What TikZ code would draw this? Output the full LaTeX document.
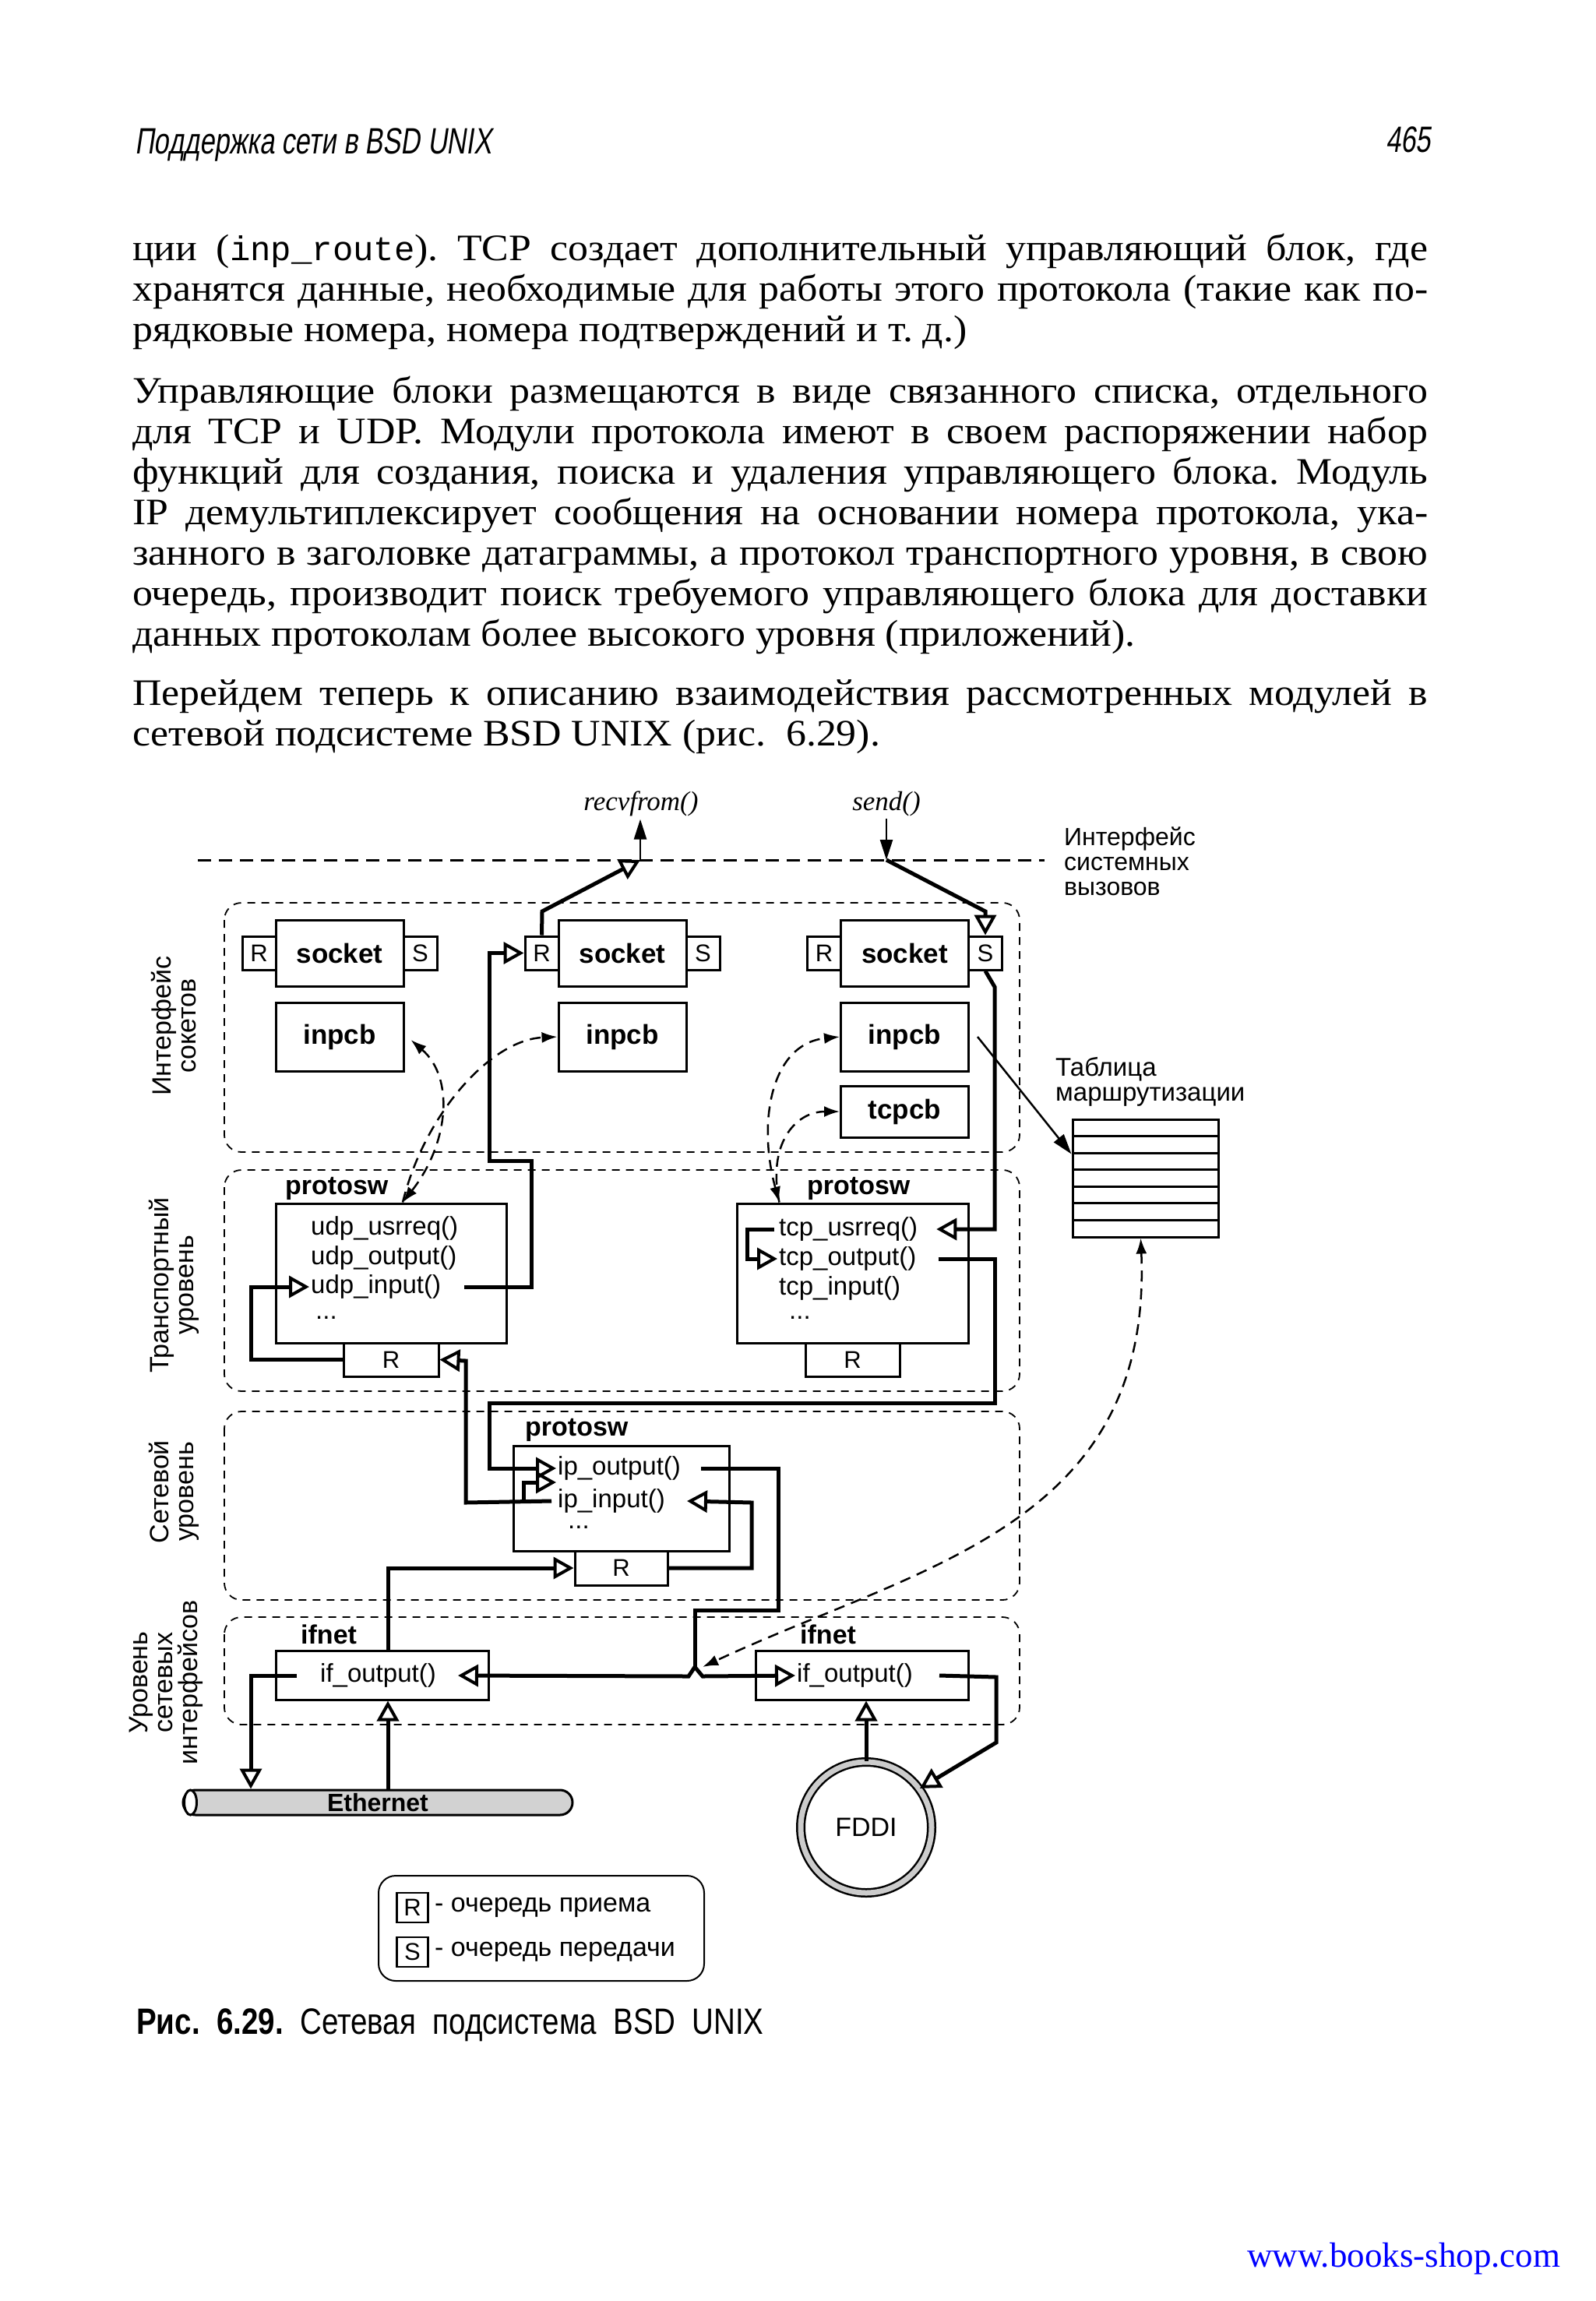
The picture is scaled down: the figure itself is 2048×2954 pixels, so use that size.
\documentclass[tikz,border=0pt]{standalone}
\usepackage{fontspec}
\setmainfont{Liberation Serif}
\newfontfamily\bodyfont[FakeStretch=1.08]{Liberation Serif}
\newfontfamily\dsans{Liberation Sans}
\newfontfamily\monof{Liberation Mono}
\newfontfamily\hdrfont[FakeStretch=0.73,FakeSlant=0.15]{Liberation Sans}
\newfontfamily\capfont[FakeStretch=0.82]{Liberation Sans}
\usetikzlibrary{arrows.meta}
\newcommand\bodysz{\bodyfont\frenchspacing\fontsize{48}{52}\selectfont}
\tikzset{
  box/.style={draw, line width=3pt, fill=white, inner sep=0pt},
  bl/.style={font=\dsans\bfseries\fontsize{35}{40}\selectfont},
  fn/.style={font=\dsans\fontsize{33}{38}\selectfont, inner sep=0pt, anchor=west},
  lbl/.style={font=\dsans\bfseries\fontsize{34}{38}\selectfont, inner sep=0pt, anchor=base west},
  qd/.style={box, font=\dsans\fontsize{31}{34}\selectfont},
  region/.style={draw, line width=1.8pt, dash pattern=on 10pt off 8pt, rounded corners=22pt},
  flow/.style={line width=5pt, -{Triangle[open, length=26pt, width=28pt, line width=4pt]}},
  flowline/.style={line width=5pt},
  thinarr/.style={line width=2.5pt, -{Triangle[length=26pt, width=16pt]}},
  darr/.style={line width=2.5pt, dash pattern=on 14pt off 9pt},
  bodyline/.style={anchor=base west, inner sep=0pt, font=\bodysz},
  side/.style={rotate=90, align=center, inner sep=0pt, font=\dsans\fontsize{34}{32}\selectfont},
}
\newcommand\jl[1]{\makebox[1663pt][s]{#1}}
\begin{document}
\begin{tikzpicture}[x=1pt,y=-1pt]
\fill[white] (0,0) rectangle (2048,2954);
\useasboundingbox (0,0) rectangle (2048,2954);

% ---------- header ----------
\node[anchor=base west, inner sep=0pt, font=\hdrfont\fontsize{47}{50}\selectfont] (hdr) at (173,198) {Поддержка сети в BSD UNIX};
\node[anchor=base east, inner sep=0pt, font=\hdrfont\fontsize{47}{50}\selectfont] (pgno) at (1837,196) {465};

% ---------- body text ----------
\node[bodyline] (l1) at (170,334) {\jl{ции ({\monof\fontsize{44}{52}\selectfont inp\_route}). TCP создает дополнительный управляющий блок, где}};
\node[bodyline] (l2) at (170,386) {\jl{хранятся данные, необходимые для работы этого протокола (такие как по-}};
\node[bodyline] (l3) at (170,438) {рядковые номера, номера подтверждений и т. д.)};
\node[bodyline] (l4) at (170,517) {\jl{Управляющие блоки размещаются в виде связанного списка, отдельного}};
\node[bodyline] (l5) at (170,569) {\jl{для TCP и UDP. Модули протокола имеют в своем распоряжении набор}};
\node[bodyline] (l6) at (170,621) {\jl{функций для создания, поиска и удаления управляющего блока. Модуль}};
\node[bodyline] (l7) at (170,673) {\jl{IP демультиплексирует сообщения на основании номера протокола, ука-}};
\node[bodyline] (l8) at (170,725) {\jl{занного в заголовке датаграммы, а протокол транспортного уровня, в свою}};
\node[bodyline] (l9) at (170,777) {\jl{очередь, производит поиск требуемого управляющего блока для доставки}};
\node[bodyline] (l10) at (170,829) {данных протоколам более высокого уровня (приложений).};
\node[bodyline] (l11) at (170,905) {\jl{Перейдем теперь к описанию взаимодействия рассмотренных модулей в}};
\node[bodyline] (l12) at (170,957) {сетевой подсистеме BSD UNIX (рис.\ \ 6.29).};

% ---------- regions ----------
\draw[region] (288,1159) rectangle (1309,1479);
\draw[region] (288,1502) rectangle (1309,1786);
\draw[region] (288,1812) rectangle (1309,2054);
\draw[region] (288,2076) rectangle (1309,2214);

\node[side] (s1) at (223,1317) {Интерфейс\\сокетов};
\node[side] (s2) at (223,1650) {Транспортный\\уровень};
\node[side] (s3) at (223,1915) {Сетевой\\уровень};
\node[side] (s4) at (213,2160) {Уровень\\сетевых\\интерфейсов};

% ---------- system call interface ----------
\draw[line width=3pt, dash pattern=on 17pt off 10pt] (254,1104) -- (1341,1104);
\node[anchor=west, align=left, inner sep=0pt, font=\dsans\fontsize{32}{32}\selectfont] (sysif) at (1366,1106) {Интерфейс\\системных\\вызовов};
\node[font=\itshape\fontsize{35}{40}\selectfont] (recv) at (823,1032) {recvfrom()};
\node[font=\itshape\fontsize{35}{40}\selectfont] (send) at (1138,1032) {send()};
\coordinate (rcvpt) at (822,1104);
\coordinate (sndpt) at (1138,1104);

% ---------- sockets ----------
\foreach \n/\cx in {1/436,2/799,3/1161.5}{
  \node[box, bl, minimum width=164pt, minimum height=85pt] (sock\n) at (\cx,1223.5) {socket};
  \node[qd, minimum width=43pt, minimum height=43pt] (R\n) at (\cx-103.5,1223.5) {R};
  \node[qd, minimum width=43pt, minimum height=43pt] (S\n) at (\cx+103.5,1223.5) {S};
  \node[box, bl, minimum width=164pt, minimum height=88pt] (inpcb\n) at (\cx,1331) {inpcb};
}
\node[box, bl, minimum width=164pt, minimum height=66pt] (tcpcb) at (1161.5,1427) {tcpcb};

% ---------- routing table ----------
\node[anchor=west, align=left, inner sep=0pt, font=\dsans\fontsize{33}{32}\selectfont] (rtlbl) at (1355,1389) {Таблица\\маршрутизации};
\node[box, minimum width=187pt, minimum height=151pt] (rtab) at (1470.5,1512.5) {};
\foreach \k in {1,...,6}{
  \draw[line width=3pt] (1377,1437+\k*21.57) -- (1564,1437+\k*21.57);
}

% ---------- transport ----------
\node[box, minimum width=296pt, minimum height=179pt] (udpbox) at (502,1634.5) {};
\node[qd, minimum width=122pt, minimum height=43pt] (udpR) at (502,1745.5) {R};
\node[lbl] (udpps) at (366,1533) {protosw};
\node[fn] (udpusr) at (399,1577) {udp\_usrreq()};
\node[fn] (udpout) at (399,1615) {udp\_output()};
\node[fn] (udpin) at (399,1652) {udp\_input()};
\node[fn] (udpdots) at (405,1692) {...};

\node[box, minimum width=297pt, minimum height=179pt] (tcpbox) at (1094.5,1634.5) {};
\node[qd, minimum width=121pt, minimum height=43pt] (tcpR) at (1094.5,1745.5) {R};
\node[lbl] (tcpps) at (1036,1533) {protosw};
\node[fn] (tcpusr) at (1000,1578) {tcp\_usrreq()};
\node[fn] (tcpout) at (1000,1616) {tcp\_output()};
\node[fn] (tcpin) at (1000,1654) {tcp\_input()};
\node[fn] (tcpdots) at (1013,1692) {...};

% ---------- network ----------
\node[box, minimum width=277pt, minimum height=135pt] (ipbox) at (797.5,1923.5) {};
\node[qd, minimum width=119pt, minimum height=44pt] (ipR) at (797.5,2013) {R};
\node[lbl] (ipps) at (674,1843) {protosw};
\node[fn] (ipout) at (716,1885) {ip\_output()};
\node[fn] (ipin) at (716,1927) {ip\_input()};
\node[fn] (ipdots) at (729,1961) {...};

% ---------- interfaces ----------
\node[box, minimum width=273pt, minimum height=63pt] (ifnet1) at (490.5,2150.5) {};
\node[lbl] (ifl1) at (386,2110) {ifnet};
\node[fn] (ifout1) at (411,2151) {if\_output()};
\node[box, minimum width=273pt, minimum height=63pt] (ifnet2) at (1106.5,2150.5) {};
\node[lbl] (ifl2) at (1027,2110) {ifnet};
\node[fn] (ifout2) at (1023,2151) {if\_output()};

% Ethernet and FDDI
\node[draw, line width=3pt, fill=gray!35, rounded corners=16pt, minimum width=500pt, minimum height=32pt, inner sep=0pt, font=\dsans\bfseries\fontsize{32}{34}\selectfont] (eth) at (485,2314) {Ethernet};
\draw[line width=3pt, fill=white] ([xshift=11pt]eth.west) ellipse (8pt and 16pt);
\node[circle, draw, line width=2.5pt, double=gray!40, double distance=7pt, minimum size=168pt, fill=white, font=\dsans\fontsize{34}{38}\selectfont] (fddi) at (1112,2346) {FDDI};

% ---------- legend ----------
\draw[line width=2pt, rounded corners=22pt] (486,2408) rectangle (904,2543);
\node[qd, line width=2.5pt, minimum width=40pt, minimum height=38pt] (legR) at (529.5,2449) {R};
\node[anchor=west, inner sep=0pt, font=\dsans\fontsize{34}{36}\selectfont] (legRt) at (558,2449) {- очередь приема};
\node[qd, line width=2.5pt, minimum width=40pt, minimum height=38pt] (legS) at (529.5,2506) {S};
\node[anchor=west, inner sep=0pt, font=\dsans\fontsize{34}{36}\selectfont] (legSt) at (558,2506) {- очередь передачи};

% ---------- caption & url ----------
\node[anchor=west, inner sep=0pt, font=\capfont\fontsize{47}{50}\selectfont] (cap) at (175,2600) {{\bfseries Рис.\ \ 6.29.}\ \ Сетевая\ \ подсистема\ \ BSD\ \ UNIX};
\node[anchor=base west, inner sep=0pt, font=\fontsize{45}{48}\selectfont, text={rgb,255:red,0;green,0;blue,255}] (url) at (1601,2910) {www.books-shop.com};

% ---------- connectors ----------
% system calls
\draw[flow] (R2.north) -- (696,1170) -- (rcvpt);
\draw[thinarr] (rcvpt) -- (rcvpt |- recv.south);
\draw[thinarr] (send.south) -- (sndpt);
\draw[flow] (sndpt) -- (1265,1170) -- (S3.north);
% tcp send path
\draw[flow] (S3.south) -- (1277,1267) -- (1277,1578) -- ([xshift=24pt]tcpusr.east);
\draw[flow] ([xshift=-6pt]tcpusr.west) -- (959,1578) -- (959,1616) -- ([xshift=-2pt]tcpout.west);
\draw[flow] ([xshift=28pt]tcpout.east) -- (1277,1616) -- (1277,1801) -- (628,1801) -- (628,1885) -- ([xshift=-2pt]ipout.west);
% ip input to udp
\coordinate (fwd) at (672,1929);
\draw[flow] ([xshift=-8pt]ipin.west) -- (598,1929) -- (598,1747) -- (udpR.east);
\draw[flow] (fwd) |- ([xshift=-2pt,yshift=-18pt]ipout.west);
% udp
\draw[flow] ([xshift=30pt]udpin.east) -- (682,1652) -- (682,1490) -- (628,1490) -- (628,1223.5) -- (R2.west);
\draw[flow] (udpR.west) -- (322,1745.5) -- (322,1652) -- ([xshift=-2pt]udpin.west);
% ip output to interfaces
\coordinate (junc) at (892,2140);
\draw[flowline] ([xshift=26pt]ipout.east) -- (999,1885) -- (999,2067) -- (892,2067) -- (junc);
\draw[flow] (junc) -- (884,2152) -- ([xshift=28pt]ifout1.east);
\draw[flow] (junc) -- (902,2152) -- ([xshift=-2pt]ifout2.west);
% input into ip
\draw[flow] ([xshift=7.5pt]ifnet1.north) -- (498,2013) -- (ipR.west);
\draw[flow] (ipR.east) -- (965,2013) -- (965,1929) -- ([xshift=28pt]ipin.east);
% ethernet
\draw[flow] ([xshift=-30pt]ifout1.west) -| ([xshift=-163pt]eth.north);
\draw[flow] ([xshift=13pt]eth.north) -- ([xshift=7.5pt]ifnet1.south);
% fddi
\draw[flow] (fddi.north) -- (fddi.north |- ifnet2.south);
\draw[flow] ([xshift=34pt]ifout2.east) -- (1279,2153) -- (1279,2237) -- (fddi.36);
% routing
\draw[thinarr] ([xshift=10pt]inpcb3.east) -- ([yshift=31pt]rtab.west);
% dashed control links
\draw[darr, {Latex[length=20pt,width=14pt]}-{Latex[length=20pt,width=14pt]}] ([xshift=8pt,yshift=-4pt]inpcb1.east) .. controls (585,1385) and (575,1470) .. ([xshift=15pt]udpbox.north);
\draw[darr, -{Latex[length=20pt,width=14pt]}] ([xshift=15pt]udpbox.north) .. controls (545,1430) and (630,1335) .. (inpcb2.west);
\draw[darr, {Latex[length=20pt,width=14pt]}-{Latex[length=20pt,width=14pt]}] ([xshift=-94pt]tcpbox.north) .. controls (972,1440) and (990,1340) .. (inpcb3.west);
\draw[darr, -{Latex[length=20pt,width=14pt]}] ([xshift=-94pt]tcpbox.north) .. controls (985,1470) and (1020,1427) .. (tcpcb.west);
\draw[darr, {Latex[length=20pt,width=14pt]}-{Latex[length=20pt,width=14pt]}] ([xshift=-6pt]rtab.south) .. controls (1480,1960) and (1180,2010) .. ([xshift=10pt]junc);
\end{tikzpicture}
\end{document}
